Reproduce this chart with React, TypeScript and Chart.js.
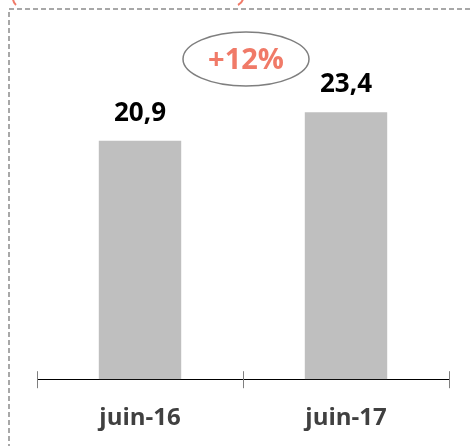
import React, { useEffect, useRef } from 'react';
import { Chart, registerables } from 'chart.js';

Chart.register(...registerables);

const categories = ['juin-16', 'juin-17'];
const values = [20.9, 23.4];
const valueLabels = ['20,9', '23,4'];
const growthLabel = '+12%';

const FONT = '"Open Sans", "Noto Sans", sans-serif';

const decorPlugin = {
  id: 'decor',
  beforeDraw(chart: any) {
    const ctx = chart.ctx as CanvasRenderingContext2D;
    ctx.save();
    // dashed frame
    ctx.strokeStyle = '#8c8c8c';
    ctx.lineWidth = 1.5;
    ctx.setLineDash([5, 3]);
    ctx.strokeRect(9, 9, 600, 600);
    ctx.setLineDash([]);
    // salmon bracket ends (cut-off shape above)
    ctx.strokeStyle = '#f07a68';
    ctx.lineWidth = 2;
    ctx.beginPath();
    ctx.moveTo(13, -1);
    ctx.quadraticCurveTo(13.5, 3, 16, 5);
    ctx.stroke();
    ctx.beginPath();
    ctx.moveTo(243, -1);
    ctx.quadraticCurveTo(242, 3, 238, 5);
    ctx.stroke();
    ctx.restore();
  },
  afterDraw(chart: any) {
    const ctx = chart.ctx as CanvasRenderingContext2D;
    const xs = chart.scales.x;
    const yb = chart.chartArea.bottom;
    ctx.save();
    // cross tick marks at category boundaries
    const mids = [xs.left];
    for (let i = 0; i < categories.length - 1; i++) {
      mids.push((xs.getPixelForValue(i) + xs.getPixelForValue(i + 1)) / 2);
    }
    mids.push(xs.right);
    ctx.strokeStyle = '#7f7f7f';
    ctx.lineWidth = 1;
    mids.forEach((p) => {
      const px = Math.round(p) + 0.5;
      ctx.beginPath();
      ctx.moveTo(px, yb - 8);
      ctx.lineTo(px, yb + 9);
      ctx.stroke();
    });
    // value labels
    const meta = chart.getDatasetMeta(0);
    ctx.fillStyle = '#000000';
    ctx.font = `bold 26px ${FONT}`;
    ctx.textAlign = 'center';
    ctx.textBaseline = 'alphabetic';
    meta.data.forEach((bar: any, i: number) => {
      ctx.fillText(valueLabels[i], bar.x, bar.y - 20);
    });
    // growth ellipse
    const cx = (xs.left + xs.right) / 2 + 3;
    const cy = 59;
    ctx.strokeStyle = '#7f7f7f';
    ctx.lineWidth = 1.5;
    ctx.beginPath();
    ctx.ellipse(cx, cy, 63, 27, 0, 0, Math.PI * 2);
    ctx.stroke();
    ctx.fillStyle = '#f07a68';
    ctx.font = `bold 29px ${FONT}`;
    ctx.textBaseline = 'middle';
    ctx.fillText(growthLabel, cx, cy + 2);
    ctx.restore();
  },
};

export default function App() {
  const ref = useRef<HTMLCanvasElement>(null);
  useEffect(() => {
    let chart: Chart | null = null;
    let cancelled = false;
    const make = () => {
      if (cancelled || !ref.current) return;
      chart = new Chart(ref.current, {
        type: 'bar',
        data: {
          labels: categories,
          datasets: [
            {
              data: values,
              backgroundColor: '#bfbfbf',
              borderWidth: 0,
              barPercentage: 0.4,
              categoryPercentage: 1,
            },
          ],
        },
        options: {
          responsive: false,
          animation: false,
          layout: { padding: { left: 37, right: 24, top: 37, bottom: -12 } },
          plugins: { legend: { display: false }, tooltip: { enabled: false } },
          scales: {
            x: {
              grid: { display: false, drawTicks: false },
              border: { display: true, color: '#000000', width: 1 },
              ticks: {
                padding: 25,
                color: '#404040',
                font: { family: FONT, size: 24, weight: 'bold' },
              },
            },
            y: {
              display: false,
              min: 0,
              max: 30,
            },
          },
        },
        plugins: [decorPlugin],
      });
    };
    const fontsApi = (document as any).fonts;
    if (fontsApi && fontsApi.load) {
      Promise.all([
        fontsApi.load('bold 24px "Open Sans"'),
        fontsApi.load('bold 29px "Open Sans"'),
      ]).then(make, make);
    } else {
      make();
    }
    return () => {
      cancelled = true;
      if (chart) chart.destroy();
    };
  }, []);
  return (
    <div style={{ position: 'fixed', left: 0, top: 0, width: 473, height: 446, background: '#ffffff' }}>
      <canvas ref={ref} width={473} height={446} style={{ display: 'block' }} />
    </div>
  );
}
